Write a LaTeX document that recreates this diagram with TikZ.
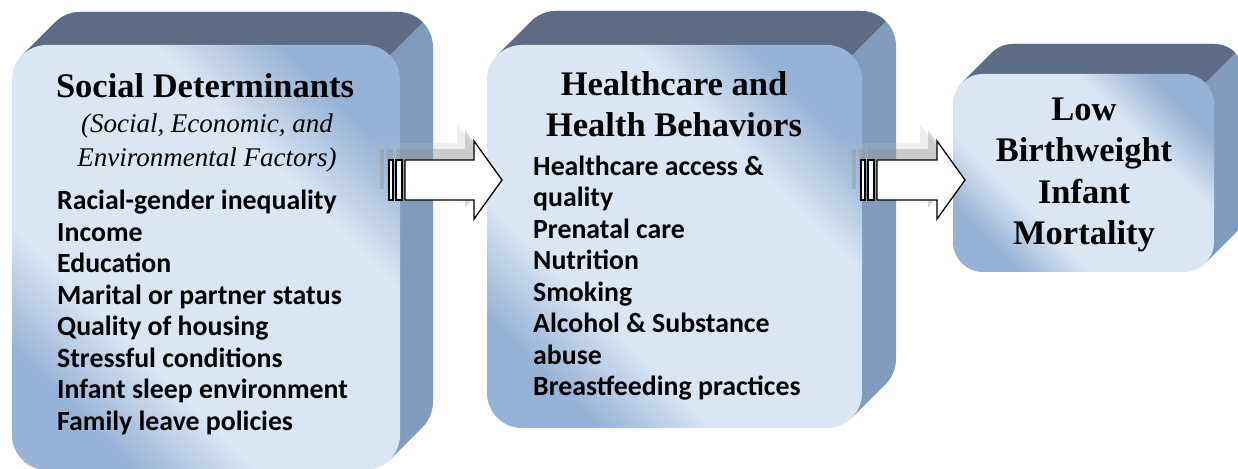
\documentclass[tikz,border=0pt]{standalone}
\usepackage{fontspec}
\setmainfont{Liberation Serif}
\newfontfamily\listfont{Carlito}
\usetikzlibrary{backgrounds}

\definecolor{boxblue}{HTML}{95B3D7}
\definecolor{boxlight}{HTML}{DCE6F2}
\definecolor{sideblue}{HTML}{809BBD}
\definecolor{topslate}{HTML}{5C6C86}

\pgfdeclarehorizontalshading{frontglow}{100bp}{color(0bp)=(boxblue); color(25bp)=(boxblue); color(36bp)=(boxlight); color(64bp)=(boxlight); color(75bp)=(boxblue); color(100bp)=(boxblue)}

\begin{document}
\begin{tikzpicture}[
  x=1pt, y=1pt,
  frontface/.style={rectangle, rounded corners=#1, shade, shading=frontglow, shading angle=45, inner sep=0pt, outer sep=0pt},
  sideface/.style={fill=sideblue},
  topface/.style={fill=topslate},
  headtext/.style={font=\bfseries\fontsize{34.5}{41.5}\selectfont, align=center, inner sep=0pt},
  subtext/.style={font=\itshape\fontsize{27}{34}\selectfont, align=center, inner sep=0pt},
  listtext/.style={font=\listfont\bfseries\fontsize{27.8}{31.5}\selectfont, align=left, inner sep=0pt},
  blockarrow/.style={draw=black, line width=1.3pt, fill=white},
  ghost/.style={draw=none, fill=black!45, fill opacity=.35, transform canvas={shift={(-9,11)}}},
  farghost/.style={draw=none, fill=black!25, fill opacity=.25, transform canvas={shift={(-17,17)}}}
]
\useasboundingbox (0,0) rectangle (1238,468);

% front faces
\node[frontface=35, minimum width=388, minimum height=425] (social) at (206,210.5) {};
\node[frontface=35, minimum width=375, minimum height=383] (care) at (674.5,231.5) {};
\node[frontface=30, minimum width=261, minimum height=198] (outcome) at (1083.5,295) {};

% depth of the boxes
\begin{scope}[on background layer]
\foreach \bx/\dep/\rad in {social/33/35, care/34/35, outcome/30/30}{
  \foreach \k in {1,...,\dep}
    \fill[sideface, rounded corners=\rad] ([shift={(\k,\k)}]\bx.south west) rectangle ([shift={(\k,\k)}]\bx.north east);
  \fill[topface] ([shift={(0.293*\rad+\dep,-0.293*\rad+\dep)}]\bx.north west)
    arc[start angle=135, end angle=90, radius=\rad]
    -- ([shift={(-\rad+\dep,\dep)}]\bx.north east)
    arc[start angle=90, end angle=45, radius=\rad]
    -- ++(-\dep,-\dep)
    arc[start angle=45, end angle=90, radius=\rad]
    -- ([xshift=\rad]\bx.north west)
    arc[start angle=90, end angle=135, radius=\rad]
    -- cycle;
}
\end{scope}

% texts (base = last line)
\node[headtext, anchor=base] (socialhead) at (205,370) {Social Determinants};
\node[subtext, anchor=base] (socialsub) at (207,301) {(Social, Economic, and\\Environmental Factors)};
\node[listtext, anchor=base west] (sociallist) at (57,37.5) {Racial-gender inequality\\Income\\Education\\Marital or partner status\\Quality of housing\\Stressful conditions\\Infant sleep environment\\Family leave policies};

\node[headtext, anchor=base] (carehead) at (674,331) {Healthcare and\\Health Behaviors};
\node[listtext, anchor=base west] (carelist) at (533,72) {Healthcare access \&\\quality\\Prenatal care\\Nutrition\\Smoking\\Alcohol \& Substance\\abuse\\Breastfeeding practices};

\node[headtext, anchor=base] (outcomehead) at (1084,223) {Low\\Birthweight\\Infant\\Mortality};

% arrows
\path (social.east |- 0,288) ++(5,0) coordinate (a1s);
\path (care.west |- 0,288) ++(15,0) coordinate (a1e);
\path (care.east |- 0,288) ++(15,0) coordinate (a2s);
\path (outcome.west |- 0,288) ++(12,0) coordinate (a2e);

\foreach \s/\e in {a1s/a1e, a2s/a2e}
  \foreach \look in {farghost, ghost, blockarrow}{
    \draw[\look] ([yshift=20]\s) -- ([shift={(-28,20)}]\e) -- ([shift={(-28,39)}]\e) -- (\e)
      -- ([shift={(-28,-39)}]\e) -- ([shift={(-28,-20)}]\e) -- ([yshift=-20]\s) -- cycle;
    \draw[\look] ([shift={(-16,-20)}]\s) rectangle ([shift={(-12,20)}]\s);
    \draw[\look] ([shift={(-9,-20)}]\s) rectangle ([shift={(-3,20)}]\s);
  }

\end{tikzpicture}
\end{document}
